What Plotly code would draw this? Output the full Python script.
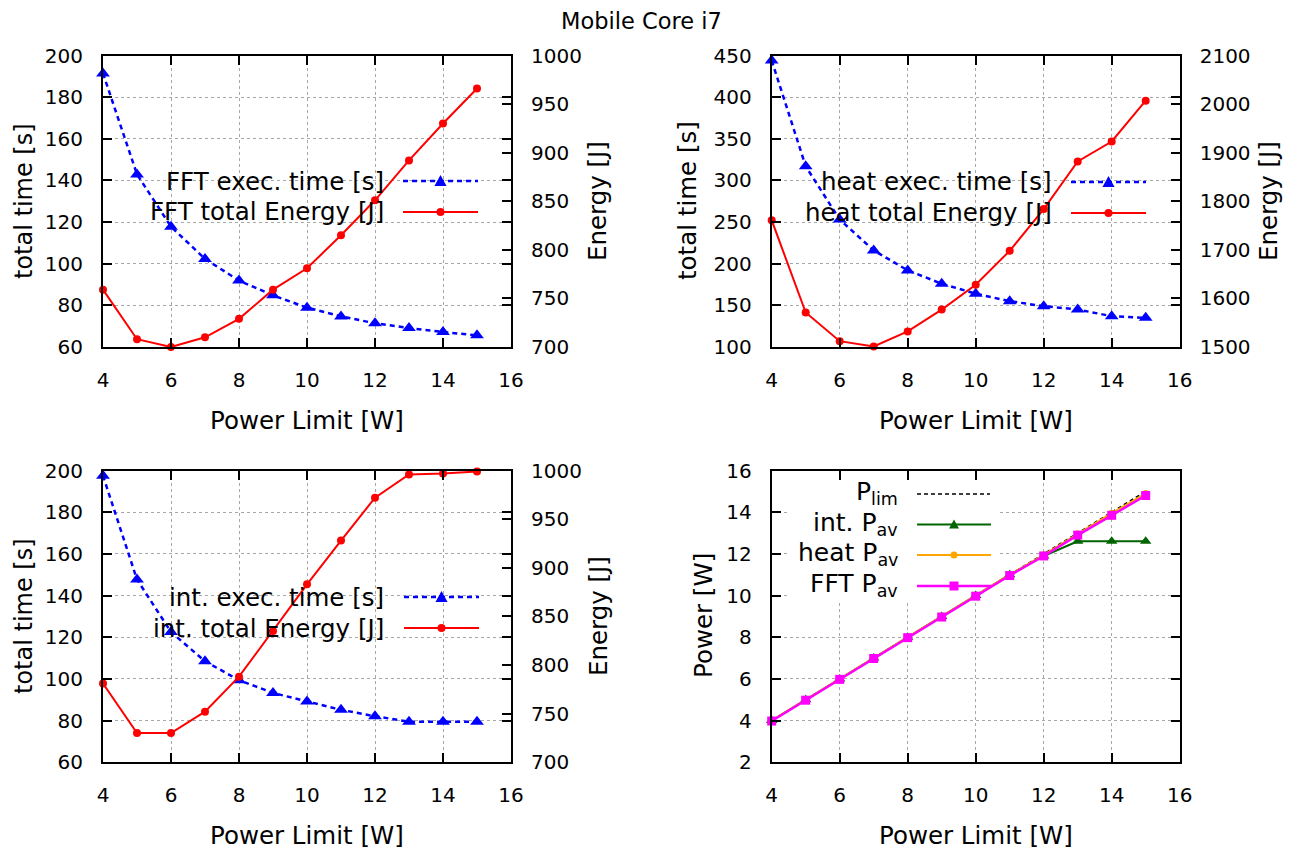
import plotly.graph_objects as go

# The page body has an 8px margin, so the figure is drawn 8px in from the corner.
OFF = 8
W, H = 1298 - OFF, 852 - OFF
FONT = "DejaVu Sans"

# ---------------- data ----------------
power = [4, 5, 6, 7, 8, 9, 10, 11, 12, 13, 14, 15]

fft_time = [191.4, 142.9, 117.8, 102.3, 91.9, 84.8, 78.9, 74.7, 71.4, 69.1, 67.2, 65.6]
fft_energy = [759, 708, 700, 710, 729, 759, 781, 815, 851, 892, 930, 966]

heat_time = [444, 317, 253, 216, 192, 176, 164, 155, 149, 145, 137, 135]
heat_energy = [1761, 1571, 1512, 1501, 1532, 1577, 1628, 1698, 1784, 1882, 1923, 2007]

int_time = [197.5, 147.7, 122.5, 108.5, 99.4, 93.3, 89.2, 85.2, 82.1, 79.5, 79.4, 79.4]
int_energy = [781, 730, 730, 752, 788, 835, 883, 928, 972, 996, 997, 999]

p_lim = [4, 5, 6, 7, 8, 9, 10, 11, 12, 13, 14, 15]
int_pav = [4.0, 5.0, 6.0, 7.0, 8.0, 9.0, 10.0, 11.0, 11.9, 12.6, 12.6, 12.6]
heat_pav = [4.0, 5.0, 6.0, 7.0, 8.0, 9.0, 10.0, 11.0, 11.95, 12.95, 13.95, 14.9]
fft_pav = [3.98, 4.98, 5.98, 6.98, 7.98, 8.97, 9.97, 10.96, 11.9, 12.9, 13.85, 14.8]

x_range = [4, 16]

# ---------------- helpers (screen px -> paper) ----------------
def X(px):
    return (px - OFF) / W


def Y(py):
    return 1 - (py - OFF) / H


BLUE, RED = "#0000ff", "#ff0000"
GREEN, ORANGE, MAGENTA = "#006400", "#ffa500", "#ff00ff"
BLUE_DASH = "5px,4px"

fig = go.Figure()


def time_trace(y, xa, ya):
    return go.Scatter(x=power, y=y, xaxis=xa, yaxis=ya, mode="lines+markers",
                      line=dict(color=BLUE, width=2.5, dash=BLUE_DASH),
                      marker=dict(symbol="triangle-up", size=12, color=BLUE),
                      cliponaxis=False, showlegend=False)


def energy_trace(y, xa, ya):
    return go.Scatter(x=power, y=y, xaxis=xa, yaxis=ya, mode="lines+markers",
                      line=dict(color=RED, width=2),
                      marker=dict(symbol="circle", size=8, color=RED),
                      cliponaxis=False, showlegend=False)


fig.add_trace(time_trace(fft_time, "x", "y"))
fig.add_trace(energy_trace(fft_energy, "x", "y2"))
fig.add_trace(time_trace(heat_time, "x2", "y3"))
fig.add_trace(energy_trace(heat_energy, "x2", "y4"))
fig.add_trace(time_trace(int_time, "x3", "y5"))
fig.add_trace(energy_trace(int_energy, "x3", "y6"))

fig.add_trace(go.Scatter(x=power, y=p_lim, xaxis="x4", yaxis="y7", mode="lines",
                         line=dict(color="black", width=1.5, dash="4px,3px"),
                         cliponaxis=False, showlegend=False))
fig.add_trace(go.Scatter(x=power, y=int_pav, xaxis="x4", yaxis="y7", mode="lines+markers",
                         line=dict(color=GREEN, width=2),
                         marker=dict(symbol="triangle-up", size=10, color=GREEN),
                         cliponaxis=False, showlegend=False))
fig.add_trace(go.Scatter(x=power, y=heat_pav, xaxis="x4", yaxis="y7", mode="lines+markers",
                         line=dict(color=ORANGE, width=2),
                         marker=dict(symbol="circle", size=7, color=ORANGE),
                         cliponaxis=False, showlegend=False))
fig.add_trace(go.Scatter(x=power, y=fft_pav, xaxis="x4", yaxis="y7", mode="lines+markers",
                         line=dict(color=MAGENTA, width=2.5),
                         marker=dict(symbol="square", size=9, color=MAGENTA),
                         cliponaxis=False, showlegend=False))

# ---------------- axes ----------------
L_PX = (103, 511)
R_PX = (771.7, 1179.7)
T_PX = (55.5, 347)
B_PX = (470.5, 762.3)

xdom_l = [X(L_PX[0]), X(L_PX[1])]
xdom_r = [X(R_PX[0]), X(R_PX[1])]
ydom_t = [Y(T_PX[1]), Y(T_PX[0])]
ydom_b = [Y(B_PX[1]), Y(B_PX[0])]

base = dict(showline=True, linecolor="black", linewidth=2, ticks="inside", ticklen=9,
            tickwidth=1.5, tickcolor="black", zeroline=False, automargin=False,
            tickfont=dict(family=FONT, size=20, color="black"))
grid = dict(showgrid=True, gridcolor="#a8a8a8", gridwidth=1, griddash="dot")


def xax(dom, anchor):
    return dict(base, **grid, domain=dom, anchor=anchor, range=x_range, tick0=4, dtick=2,
                mirror="ticks", ticklabelstandoff=14)


def yl(dom, anchor, rng, dt):
    return dict(base, **grid, domain=dom, anchor=anchor, range=rng, tick0=rng[0], dtick=dt,
                mirror="ticks", ticklabelstandoff=14)


def yr(over, anchor, rng, dt):
    return dict(base, showgrid=False, overlaying=over, side="right", anchor=anchor,
                range=rng, tick0=rng[0], dtick=dt, ticklabelstandoff=14)


p4_y = [2, 16]
fig.update_layout(
    xaxis=xax(xdom_l, "y"),
    xaxis2=xax(xdom_r, "y3"),
    xaxis3=xax(xdom_l, "y5"),
    xaxis4=xax(xdom_r, "y7"),
    yaxis=yl(ydom_t, "x", [60, 200], 20),
    yaxis2=yr("y", "x", [700, 1000], 50),
    yaxis3=yl(ydom_t, "x2", [100, 450], 50),
    yaxis4=yr("y3", "x2", [1500, 2100], 100),
    yaxis5=yl(ydom_b, "x3", [60, 200], 20),
    yaxis6=yr("y5", "x3", [700, 1000], 50),
    yaxis7=yl(ydom_b, "x4", p4_y, 2),
)

# ---------------- text ----------------
ann = []


def text(px, py, s, size, angle=0, xanchor="center"):
    ann.append(dict(x=X(px), y=Y(py), xref="paper", yref="paper", text=s, showarrow=False,
                    textangle=angle, xanchor=xanchor, yanchor="middle",
                    font=dict(family=FONT, size=size, color="black")))


AX_T = 24.5
text(641, 21, "Mobile Core i7", 22.5)
for cx, cy in [(307, 420), (975.7, 420), (307, 835), (975.7, 835)]:
    text(cx, cy, "Power Limit [W]", AX_T)
text(24, 201, "total time [s]", 24, -90)
text(688, 201, "total time [s]", AX_T, -90)
text(24, 616, "total time [s]", 24, -90)
text(703, 616, "Power [W]", AX_T, -90)
text(598, 201, "Energy [J]", AX_T, -90)
text(1269, 201, "Energy [J]", AX_T, -90)
text(598, 616, "Energy [J]", AX_T, -90)

# ---------------- keys ----------------
shapes = []


# opaque key box in the power panel (hides the grid behind the key)
def p4x(px):
    return x_range[0] + (px - R_PX[0]) / (R_PX[1] - R_PX[0]) * (x_range[1] - x_range[0])


def p4y(py):
    return p4_y[0] + (B_PX[1] - py) / (B_PX[1] - B_PX[0]) * (p4_y[1] - p4_y[0])


shapes.append(dict(type="rect", xref="x4", yref="y7",
                   x0=p4x(787), x1=p4x(1000), y0=p4y(601), y1=p4y(472),
                   fillcolor="white", line=dict(width=0), layer="between"))


def key(tx, ty, label, x0, x1, color, dash, width, sym, msize, size=24.5, ly=None):
    if ly is None:
        ly = ty
    text(tx, ty, label, size, xanchor="right")
    shapes.append(dict(type="line", xref="paper", yref="paper", x0=X(x0), x1=X(x1),
                       y0=Y(ly), y1=Y(ly), line=dict(color=color, width=width, dash=dash),
                       layer="above"))
    cx = (x0 + x1) / 2
    if sym == "triangle":
        h = msize
        w = msize * 1.1
        path = "M {},{} L {},{} L {},{} Z".format(
            X(cx), Y(ly - h * 0.55), X(cx - w / 2), Y(ly + h * 0.45), X(cx + w / 2), Y(ly + h * 0.45))
        shapes.append(dict(type="path", xref="paper", yref="paper", path=path,
                           fillcolor=color, line=dict(width=0), layer="above"))
    elif sym == "circle":
        r = msize / 2
        shapes.append(dict(type="circle", xref="paper", yref="paper", x0=X(cx - r), x1=X(cx + r),
                           y0=Y(ly + r), y1=Y(ly - r), fillcolor=color, line=dict(width=0),
                           layer="above"))
    elif sym == "square":
        r = msize / 2
        shapes.append(dict(type="rect", xref="paper", yref="paper", x0=X(cx - r), x1=X(cx + r),
                           y0=Y(ly + r), y1=Y(ly - r), fillcolor=color, line=dict(width=0),
                           layer="above"))


key(386, 181, "FFT exec. time [s]", 403, 478, BLUE, BLUE_DASH, 2.5, "triangle", 11)
key(386, 212, "FFT total Energy [J]", 403, 478, RED, "solid", 2, "circle", 8)
key(1054, 182, "heat exec. time [s]", 1071, 1146, BLUE, BLUE_DASH, 2.5, "triangle", 11)
key(1054, 213, "heat total Energy [J]", 1071, 1146, RED, "solid", 2, "circle", 8)
key(386, 597, "int. exec. time [s]", 404, 479, BLUE, BLUE_DASH, 2.5, "triangle", 11)
key(386, 628, "int. total Energy [J]", 404, 479, RED, "solid", 2, "circle", 8)

key(900, 493, "P<sub>lim</sub>", 917, 990, "black", "4px,3px", 1.5, None, 0, size=25, ly=494)
key(900, 523.5, "int. P<sub>av</sub>", 917, 991, GREEN, "solid", 2, "triangle", 9, size=25, ly=524.5)
key(900, 554, "heat P<sub>av</sub>", 917, 991, ORANGE, "solid", 2, "circle", 7, size=25, ly=555)
key(900, 585, "FFT P<sub>av</sub>", 917, 991, MAGENTA, "solid", 2.5, "square", 9, size=25, ly=586)

fig.update_layout(
    width=W, height=H, margin=dict(l=0, r=0, t=0, b=0),
    paper_bgcolor="white", plot_bgcolor="white", showlegend=False,
    annotations=ann, shapes=shapes,
    font=dict(family=FONT, color="black"),
)

fig.write_html("out.html")
